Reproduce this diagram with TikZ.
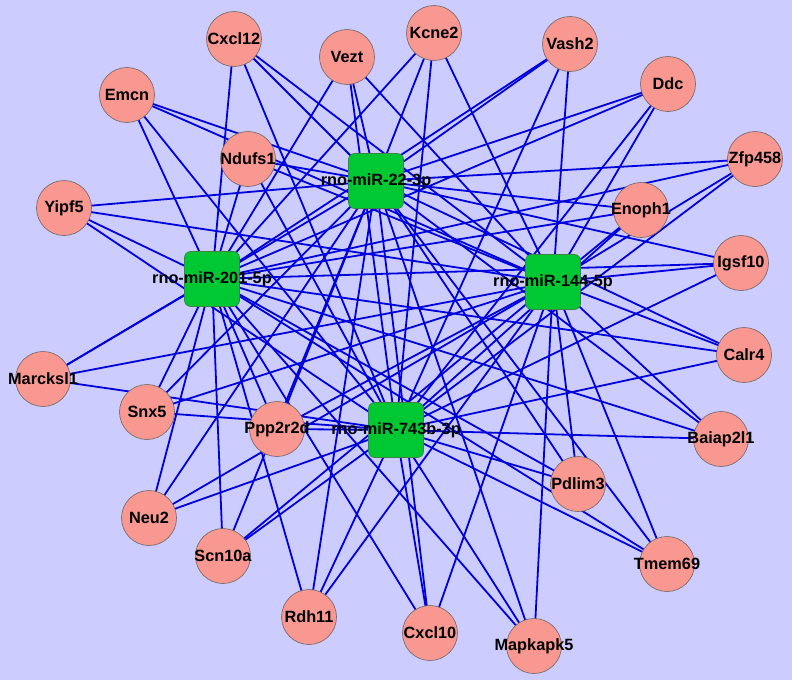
\documentclass[tikz,border=0pt]{standalone}
\usepackage{fontspec}
\setmainfont{Liberation Sans}
\definecolor{bgcol}{RGB}{204,204,255}
\definecolor{genefill}{RGB}{248,152,144}
\definecolor{geneline}{RGB}{110,100,100}
\definecolor{hubfill}{RGB}{0,200,50}
\definecolor{hubline}{RGB}{60,130,70}
\definecolor{edgeblue}{RGB}{0,0,220}
\pgfdeclarelayer{bg}
\pgfdeclarelayer{bgfill}
\pgfsetlayers{bgfill,bg,main}
\begin{document}
\begin{tikzpicture}[x=1pt,y=-1pt,
  gene/.style={circle, fill=genefill, draw=geneline, line width=0.6pt, minimum size=55pt, inner sep=0pt},
  genelabel/.style={font=\bfseries\fontsize{16.3}{17}\selectfont, inner sep=0pt, text=black},
  hub/.style={rectangle, rounded corners=6pt, fill=hubfill, draw=hubline, line width=0.6pt, minimum size=55pt, inner sep=0pt},
  hublabel/.style={font=\bfseries\fontsize{16.3}{17}\selectfont, inner sep=0pt, text=black},
  edge/.style={draw=edgeblue, line width=1.8pt}]
\begin{pgfonlayer}{bgfill}
\fill[bgcol] (0,0) rectangle (792,680);
\end{pgfonlayer}
\useasboundingbox (0,0) rectangle (792,680);
% hubs
\node[hub] (A) at (376,181) {};
\node[hub] (B) at (212,279) {};
\node[hub] (C) at (553,282) {};
\node[hub] (D) at (396,430) {};
% genes
\node[gene, label={[genelabel]center:Cxcl12}] (cxcl12) at (234,39) {};
\node[gene, label={[genelabel]center:Vezt}] (vezt) at (347,57) {};
\node[gene, label={[genelabel]center:Kcne2}] (kcne2) at (434,33) {};
\node[gene, label={[genelabel]center:Vash2}] (vash2) at (570,44) {};
\node[gene, label={[genelabel]center:Ddc}] (ddc) at (668,84) {};
\node[gene, label={[genelabel]center:Emcn}] (emcn) at (127,95) {};
\node[gene, label={[genelabel]center:Ndufs1}] (ndufs1) at (248,159) {};
\node[gene, label={[genelabel]center:Zfp458}] (zfp458) at (755,159) {};
\node[gene, label={[genelabel]center:Yipf5}] (yipf5) at (64,208) {};
\node[gene, label={[genelabel]center:Enoph1}] (enoph1) at (641,210) {};
\node[gene, label={[genelabel]center:Igsf10}] (igsf10) at (741,263) {};
\node[gene, label={[genelabel]center:Calr4}] (calr4) at (744,355) {};
\node[gene, label={[genelabel]center:Marcksl1}] (marcksl1) at (43,379) {};
\node[gene, label={[genelabel]center:Snx5}] (snx5) at (147,412) {};
\node[gene, label={[genelabel]center:Ppp2r2d}] (ppp2r2d) at (277,429) {};
\node[gene, label={[genelabel]center:Baiap2l1}] (baiap2l1) at (721,439) {};
\node[gene, label={[genelabel]center:Pdlim3}] (pdlim3) at (578,484) {};
\node[gene, label={[genelabel]center:Neu2}] (neu2) at (149,518) {};
\node[gene, label={[genelabel]center:Scn10a}] (scn10a) at (223,556) {};
\node[gene, label={[genelabel]center:Tmem69}] (tmem69) at (667,564) {};
\node[gene, label={[genelabel]center:Rdh11}] (rdh11) at (309,617) {};
\node[gene, label={[genelabel]center:Cxcl10}] (cxcl10) at (430,633) {};
\node[gene, label={[genelabel]center:Mapkapk5}] (mapkapk5) at (534,646) {};
% edges
\begin{pgfonlayer}{bg}
\foreach \g in {cxcl12,vezt,kcne2,vash2,ddc,emcn,ndufs1,zfp458,yipf5,enoph1,igsf10,calr4,marcksl1,snx5,ppp2r2d,baiap2l1,pdlim3,neu2,scn10a,tmem69,rdh11,cxcl10,mapkapk5}
  \foreach \h in {A,B,C,D}
    \draw[edge] (\g.center) -- (\h.center);
\end{pgfonlayer}
% hub labels on top
\node[hublabel] (Alab) at (A) {rno-miR-22-3p};
\node[hublabel] (Blab) at (B) {rno-miR-201-5p};
\node[hublabel] (Clab) at (C) {rno-miR-144-5p};
\node[hublabel] (Dlab) at (D) {rno-miR-743b-3p};
\end{tikzpicture}
\end{document}
